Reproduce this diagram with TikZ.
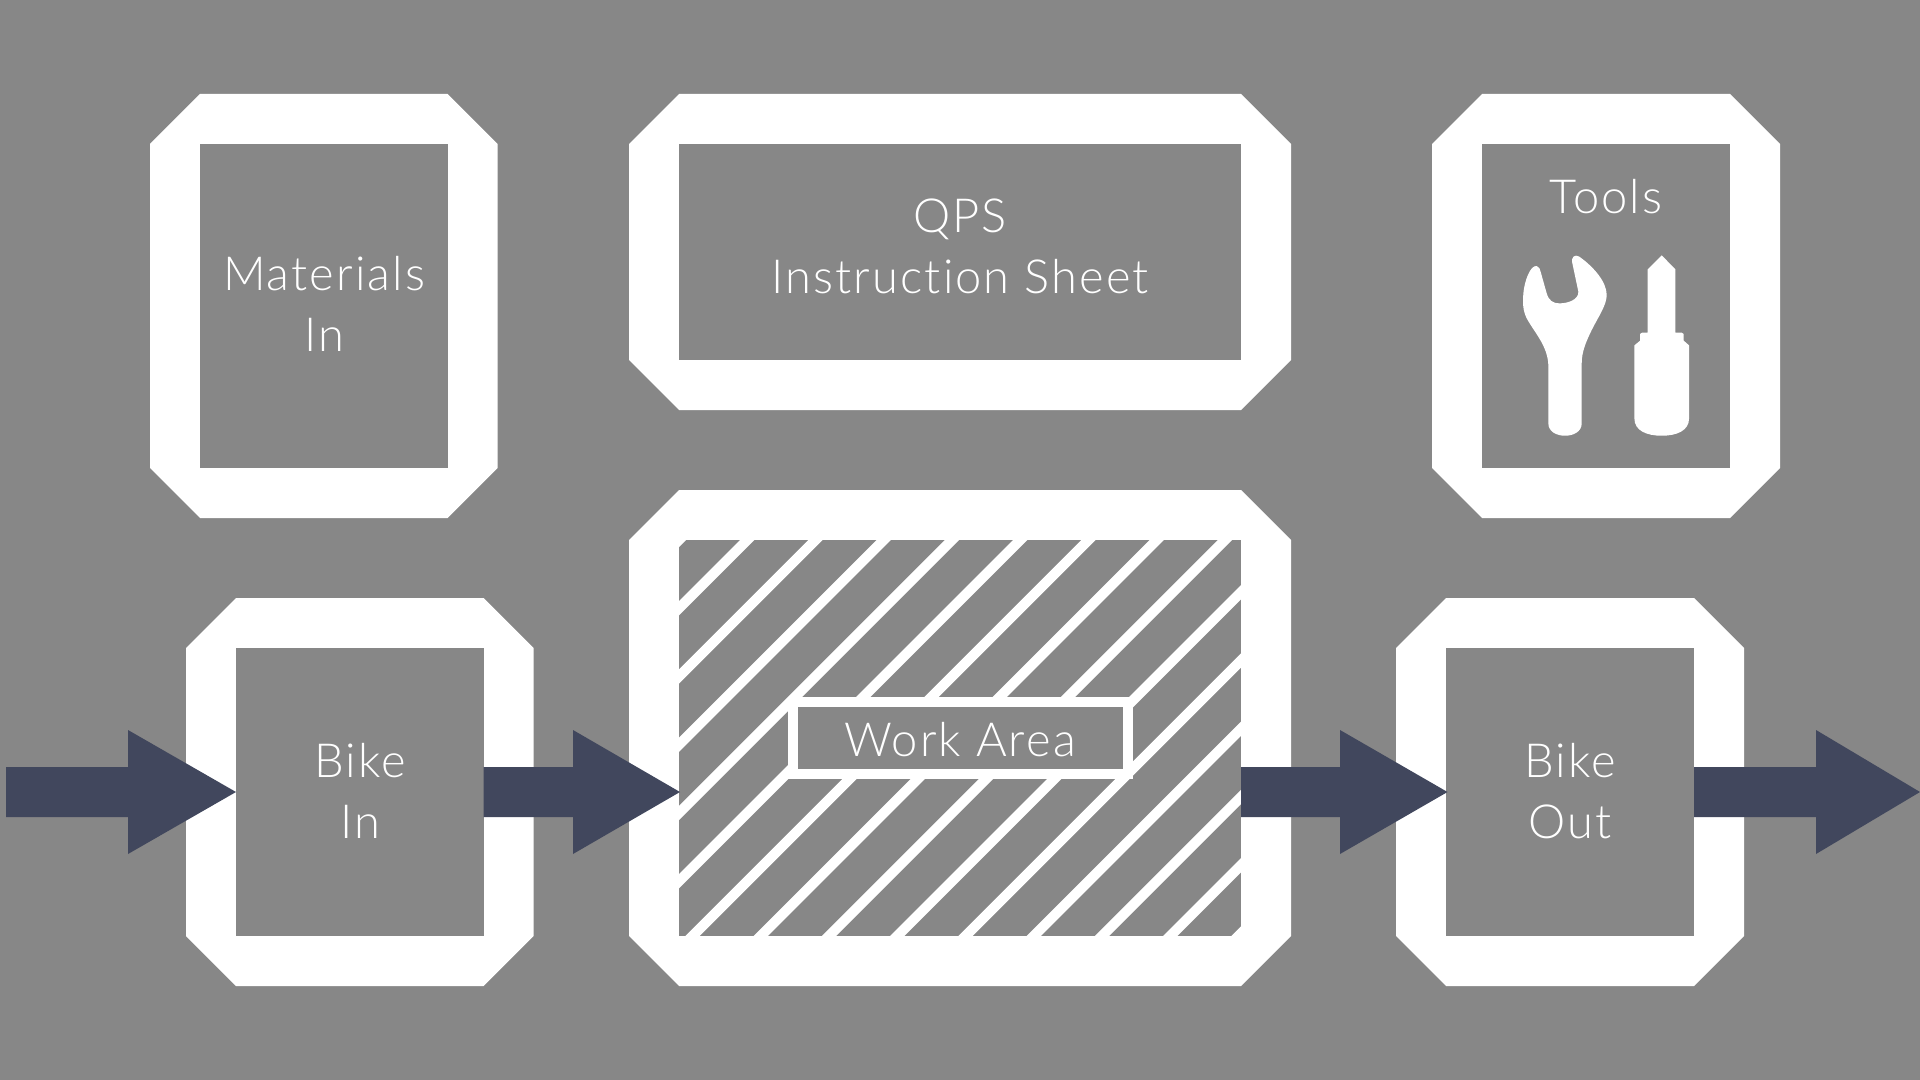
\documentclass[tikz,border=0pt]{standalone}
\usepackage{fontspec}
\setmainfont{Lato}[UprightFont=* Light,LetterSpace=4.5,Ligatures=NoCommon]
\usetikzlibrary{calc}
\definecolor{bggray}{HTML}{878787}
\definecolor{navy}{HTML}{41475D}
\tikzset{
  panel/.style={fill=bggray,draw=none,inner sep=0pt,outer sep=0pt,anchor=north west},
  octa/.style={fill=white,draw=none},
  lab/.style={text=white,align=center,font=\fontsize{23.5}{30.5}\selectfont,inner sep=0pt},
  hatchline/.style={draw=white,line width=5pt},
  blockarrow/.style={fill=navy,draw=none},
  toolshape/.style={fill=white,draw=none}
}
\newcommand{\octframe}[5]{% name x0 y0 w h
  \fill[octa] (#2,#3-50) -- (#2+#4,#3-50) -- (#2+#4+50,#3) -- (#2+#4+50,#3+#5) -- (#2+#4,#3+#5+50) -- (#2,#3+#5+50) -- (#2-50,#3+#5) -- (#2-50,#3) -- cycle;
  \node[panel,minimum width=#4*0.5pt,minimum height=#5*0.5pt] (#1) at (#2,#3) {};
}
\newcommand{\barrow}[4]{% from-coordinate, to-coordinate, head base x, y
  \fill[blockarrow] let \p1=(#1), \p2=(#2) in
    (\x1,#4-25) -- (#3,#4-25) -- (#3,#4-62) -- (\x2,#4) -- (#3,#4+62) -- (#3,#4+25) -- (\x1,#4+25) -- cycle;
}
\begin{document}
\begin{tikzpicture}[x=0.5pt,y=-0.5pt]
\useasboundingbox (0,0) rectangle (1920,1080);
\fill[bggray] (0,0) rectangle (1920,1080);

\octframe{mat}{200}{144}{247.5}{324}
\octframe{qps}{679}{144}{562}{216}
\octframe{tools}{1482}{144}{248}{324}
\octframe{bikein}{236}{648}{247.5}{288}
\octframe{work}{679}{540}{562}{396}
\octframe{bikeout}{1446}{648}{248}{288}

% hatch of the work area
\begin{scope}
  \clip (work.north west) rectangle (work.south east);
  \foreach \k in {0,...,14} {
    \pgfmathsetmacro{\c}{1219+68.25*\k}
    \draw[hatchline] (\c-1000,1000) -- (\c,0);
  }
\end{scope}

% label box of the work area
\node[fill=bggray,draw=white,line width=5pt,minimum width=167.5pt,minimum height=36pt,inner sep=0pt] (wlabel) at (960,738) {};

% labels
\node[lab] (lmat) at (324,304) {Materials\\In};
\node[lab] (lqps) at (960,246) {QPS\\Instruction Sheet};
\node[lab] (ltools) at (1606,197) {Tools};
\node[lab] (lin) at (360,791) {Bike\\In};
\node[lab] (lwork) at (960,740) {Work Area};
\node[lab] (lout) at (1570,791) {Bike\\Out};

% arrows
\coordinate (src) at (6,792);
\coordinate (snk) at (1920,792);
\barrow{src}{bikein.west}{128}{792}
\barrow{bikein.east}{$(work.west)+(1,0)$}{573}{792}
\barrow{work.east}{$(bikeout.west)+(1.5,0)$}{1340}{792}
\barrow{bikeout.east}{snk}{1816}{792}

% tool icons
\begin{scope}[shift={(1480,150)},x=0.1667pt,y=-0.1667pt]
  \fill[toolshape] (170,348) .. controls (178,350) and (180,358) .. (182,366)
    -- (200,430) .. controls (206,452) and (220,460) .. (238,460)
    .. controls (262,460) and (296,450) .. (295,425)
    -- (277,340) .. controls (272,320) and (285,312) .. (298,320)
    .. controls (340,350) and (380,395) .. (380,435)
    .. controls (380,465) and (355,500) .. (335,540)
    .. controls (318,575) and (305,605) .. (305,640)
    -- (305,820) .. controls (305,845) and (280,857) .. (255,857)
    .. controls (230,857) and (205,845) .. (205,820)
    -- (205,650) .. controls (205,590) and (165,550) .. (140,505)
    .. controls (128,480) and (128,460) .. (130,430)
    .. controls (133,395) and (150,345) .. (170,348) -- cycle;
  \fill[toolshape] (545,316) -- (586,358) -- (586,548) -- (605,548) -- (611,552) -- (611,572) -- (627,586)
    -- (627,805) .. controls (627,842) and (590,857) .. (545,857)
    .. controls (500,857) and (463,842) .. (463,805)
    -- (463,586) -- (480,572) -- (480,552) -- (486,548) -- (503,548) -- (503,358) -- cycle;
\end{scope}
\end{tikzpicture}
\end{document}
